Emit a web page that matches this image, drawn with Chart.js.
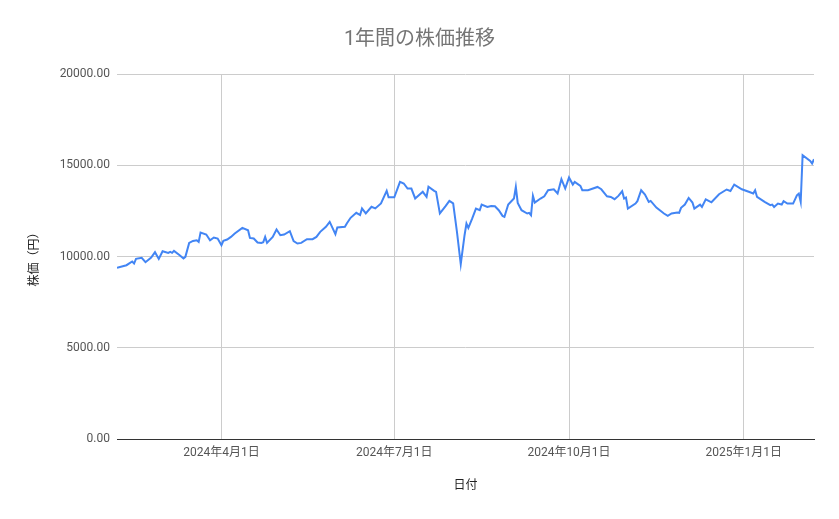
<!DOCTYPE html>
<html>
<head>
<meta charset="utf-8">
<title>1年間の株価推移</title>
<script src="https://cdn.jsdelivr.net/npm/chart.js@4.4.1/dist/chart.umd.min.js"></script>
<style>
    html, body { margin: 0; padding: 0; background: #fff; }
</style>
</head>
<body>
<canvas id="stockChart" width="839" height="519"></canvas>
<script>
// 日付（取引日）
const dates = [
    '2024-02-06','2024-02-11','2024-02-14','2024-02-15','2024-02-16','2024-02-19','2024-02-21','2024-02-24','2024-02-26','2024-02-28',
    '2024-03-01','2024-03-04','2024-03-05','2024-03-06','2024-03-07','2024-03-10','2024-03-12','2024-03-13','2024-03-15','2024-03-17',
    '2024-03-19','2024-03-20','2024-03-21','2024-03-24','2024-03-26','2024-03-28','2024-03-30','2024-04-01','2024-04-02','2024-04-04',
    '2024-04-06','2024-04-08','2024-04-12','2024-04-15','2024-04-16','2024-04-18','2024-04-20','2024-04-22','2024-04-23','2024-04-24',
    '2024-04-25','2024-04-28','2024-04-30','2024-05-02','2024-05-04','2024-05-07','2024-05-09','2024-05-11','2024-05-13','2024-05-16',
    '2024-05-19','2024-05-21','2024-05-23','2024-05-26','2024-05-28','2024-05-31','2024-06-01','2024-06-05','2024-06-06','2024-06-08',
    '2024-06-11','2024-06-13','2024-06-14','2024-06-16','2024-06-19','2024-06-21','2024-06-24','2024-06-27','2024-06-28','2024-07-01',
    '2024-07-04','2024-07-06','2024-07-08','2024-07-10','2024-07-12','2024-07-16','2024-07-18','2024-07-19','2024-07-22','2024-07-23',
    '2024-07-25','2024-07-28','2024-07-30','2024-08-01','2024-08-03','2024-08-05','2024-08-07','2024-08-08','2024-08-09','2024-08-11',
    '2024-08-13','2024-08-15','2024-08-16','2024-08-19','2024-08-21','2024-08-23','2024-08-25','2024-08-27','2024-08-28','2024-08-30',
    '2024-09-02','2024-09-03','2024-09-04','2024-09-06','2024-09-09','2024-09-10','2024-09-11','2024-09-12','2024-09-13','2024-09-16',
    '2024-09-18','2024-09-20','2024-09-23','2024-09-25','2024-09-27','2024-09-29','2024-10-01','2024-10-03','2024-10-04','2024-10-07',
    '2024-10-08','2024-10-11','2024-10-16','2024-10-18','2024-10-21','2024-10-23','2024-10-25','2024-10-27','2024-10-29','2024-10-30',
    '2024-10-31','2024-11-01','2024-11-05','2024-11-06','2024-11-08','2024-11-10','2024-11-12','2024-11-13','2024-11-16','2024-11-20',
    '2024-11-22','2024-11-24','2024-11-27','2024-11-28','2024-11-29','2024-12-01','2024-12-03','2024-12-05','2024-12-06','2024-12-09',
    '2024-12-10','2024-12-12','2024-12-15','2024-12-19','2024-12-23','2024-12-25','2024-12-27','2024-12-31','2025-01-04','2025-01-06',
    '2025-01-07','2025-01-08','2025-01-12','2025-01-15','2025-01-16','2025-01-17','2025-01-19','2025-01-21','2025-01-22','2025-01-24',
    '2025-01-27','2025-01-29','2025-01-30','2025-01-31','2025-02-01','2025-02-05','2025-02-06','2025-02-07'
];

// 株価（円）
const prices = [
    9375, 9523, 9726, 9616, 9870, 9925, 9690, 9945, 10235, 9870,
    10290, 10200, 10250, 10200, 10310, 10070, 9890, 9980, 10745, 10855,
    10890, 10800, 11315, 11205, 10890, 11040, 10985, 10620, 10855, 10930,
    11075, 11260, 11570, 11440, 11020, 10985, 10765, 10745, 10780, 11075,
    10745, 11075, 11480, 11165, 11205, 11385, 10840, 10710, 10745, 10950,
    10950, 11075, 11350, 11625, 11900, 11230, 11590, 11625, 11810, 12120,
    12395, 12270, 12635, 12360, 12725, 12635, 12910, 13600, 13240, 13240,
    14090, 14000, 13725, 13725, 13180, 13545, 13270, 13820, 13600, 13545,
    12360, 12760, 13050, 12910, 11350, 9580, 11165, 11810, 11565, 12075,
    12625, 12535, 12845, 12715, 12770, 12755, 12535, 12225, 12170, 12845,
    13175, 13810, 12935, 12535, 12355, 12390, 12260, 13320, 12955, 13175,
    13300, 13630, 13685, 13450, 14235, 13725, 14325, 13940, 14090, 13865,
    13630, 13630, 13810, 13685, 13300, 13265, 13140, 13320, 13575, 13175,
    13230, 12625, 12900, 13030, 13630, 13395, 12990, 13045, 12680, 12355,
    12225, 12355, 12410, 12390, 12665, 12845, 13210, 12955, 12625, 12845,
    12715, 13135, 12970, 13410, 13670, 13590, 13940, 13685, 13535, 13450,
    13630, 13265, 12990, 12810, 12845, 12715, 12900, 12845, 13030, 12900,
    12900, 13355, 13450, 12990, 15550, 15235, 15095, 15330
];

// 横軸の目盛り
const tickDates = ['2024-04-01', '2024-07-01', '2024-10-01', '2025-01-01'];
const tickLabels = ['2024年4月1日', '2024年7月1日', '2024年10月1日', '2025年1月1日'];

// 縦軸の目盛り
const yTicks = [0, 5000, 10000, 15000, 20000];

// 日付文字列 -> 通し日数
function dayNum(s) {
    const p = s.split('-').map(Number);
    return Date.UTC(p[0], p[1] - 1, p[2]) / 86400000;
}

const points = dates.map((d, i) => ({ x: dayNum(d), y: prices[i] }));
const tickDays = tickDates.map(dayNum);
const fontFamily = "Roboto, 'Noto Sans CJK JP', sans-serif";

const ctx = document.getElementById('stockChart').getContext('2d');
const stockChart = new Chart(ctx, {
    type: 'line',
    data: {
        datasets: [{
            label: '株価',
            data: points,
            borderColor: '#4285f4',
            borderWidth: 2,
            pointRadius: 0,
            tension: 0,
            fill: false
        }]
    },
    options: {
        responsive: false,
        animation: false,
        layout: {
            padding: 0
        },
        plugins: {
            legend: { display: false },
            tooltip: { enabled: false },
            title: {
                display: true,
                text: '1年間の株価推移',
                color: '#757575',
                font: { family: fontFamily, size: 20, weight: 'normal' },
                padding: { top: 28, bottom: 22 }
            }
        },
        scales: {
            x: {
                type: 'linear',
                min: points[0].x,
                max: points[points.length - 1].x,
                afterBuildTicks: function(scale) {
                    scale.ticks = tickDays.map(v => ({ value: v }));
                },
                afterFit: function(scale) {
                    scale.height = 80;
                },
                ticks: {
                    autoSkip: false,
                    maxRotation: 0,
                    padding: 7,
                    color: '#555',
                    font: { family: fontFamily, size: 12 },
                    callback: function(value) {
                        const i = tickDays.indexOf(value);
                        return i >= 0 ? tickLabels[i] : '';
                    }
                },
                grid: {
                    color: '#cccccc',
                    drawTicks: false
                },
                border: {
                    display: true,
                    color: '#333',
                    width: 1
                },
                title: {
                    display: true,
                    text: '日付',
                    color: '#222',
                    font: { family: fontFamily, size: 12 },
                    padding: { top: 0, bottom: 26 }
                }
            },
            y: {
                min: 0,
                max: 20000,
                afterBuildTicks: function(scale) {
                    scale.ticks = yTicks.map(v => ({ value: v }));
                },
                afterFit: function(scale) {
                    scale.width = 117;
                },
                ticks: {
                    padding: 7,
                    color: '#555',
                    font: { family: fontFamily, size: 12 },
                    callback: function(value) {
                        return Number(value).toFixed(2);
                    }
                },
                grid: {
                    color: '#cccccc',
                    drawTicks: false
                },
                border: { display: false },
                title: {
                    display: true,
                    text: '株価（円）',
                    color: '#222',
                    font: { family: fontFamily, size: 12 },
                    padding: { top: 28, bottom: 0 }
                }
            },
            // 右側の余白用（表示なし）
            rightGap: {
                position: 'right',
                afterFit: function(scale) {
                    scale.width = 25;
                },
                ticks: { display: false },
                grid: { display: false, drawTicks: false },
                border: { display: false }
            }
        }
    }
});
</script>
</body>
</html>
